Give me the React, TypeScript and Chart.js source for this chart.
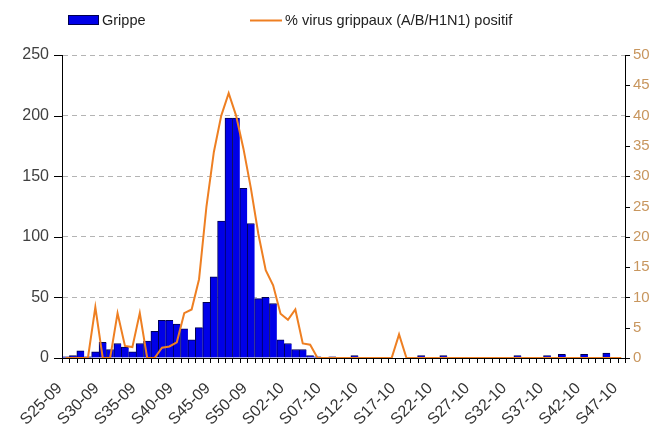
import React, { useEffect, useRef } from 'react';
import { Chart, registerables } from 'chart.js';

Chart.register(...registerables);

const weeks = [
  'S25-09', 'S26-09', 'S27-09', 'S28-09', 'S29-09', 'S30-09', 'S31-09', 'S32-09', 'S33-09', 'S34-09',
  'S35-09', 'S36-09', 'S37-09', 'S38-09', 'S39-09', 'S40-09', 'S41-09', 'S42-09', 'S43-09', 'S44-09',
  'S45-09', 'S46-09', 'S47-09', 'S48-09', 'S49-09', 'S50-09', 'S51-09', 'S52-09', 'S53-09', 'S01-10',
  'S02-10', 'S03-10', 'S04-10', 'S05-10', 'S06-10', 'S07-10', 'S08-10', 'S09-10', 'S10-10', 'S11-10',
  'S12-10', 'S13-10', 'S14-10', 'S15-10', 'S16-10', 'S17-10', 'S18-10', 'S19-10', 'S20-10', 'S21-10',
  'S22-10', 'S23-10', 'S24-10', 'S25-10', 'S26-10', 'S27-10', 'S28-10', 'S29-10', 'S30-10', 'S31-10',
  'S32-10', 'S33-10', 'S34-10', 'S35-10', 'S36-10', 'S37-10', 'S38-10', 'S39-10', 'S40-10', 'S41-10',
  'S42-10', 'S43-10', 'S44-10', 'S45-10', 'S46-10', 'S47-10',
];

const grippeCases = [
  1, 2, 6, 1, 5, 13, 7, 12, 9, 5,
  12, 14, 22, 31, 31, 28, 24, 15, 25, 46,
  67, 113, 198, 198, 140, 111, 49, 50, 45, 15,
  12, 7, 7, 2, 1, 0, 1, 0, 0, 2,
  0, 0, 0, 0, 0, 0, 0, 0, 2, 0,
  0, 2, 0, 0, 0, 0, 0, 0, 0, 0,
  0, 2, 0, 0, 0, 2, 0, 3, 0, 0,
  3, 0, 0, 4, 0, 0,
];

const virusPositivePct = [
  0, 0, 0, 0, 8.4, 0, 0, 7.4, 2, 1.8,
  7.4, 0, 0, 1.7, 1.9, 2.6, 7.4, 8, 13, 25,
  34, 40, 43.7, 40, 34.5, 28, 20.5, 14.5, 12, 7.3,
  6.3, 8, 2.4, 2.2, 0, 0, 0, 0, 0, 0,
  0, 0, 0, 0, 0, 3.9, 0, 0, 0, 0,
  0, 0, 0, 0, 0, 0, 0, 0, 0, 0,
  0, 0, 0, 0, 0, 0, 0, 0, 0, 0,
  0, 0, 0, 0, 0, 0,
];

const seriesNames = ['Grippe', '% virus grippaux (A/B/H1N1) positif'];
const leftAxisMax = 250;
const leftAxisStep = 50;
const rightAxisMax = 50;
const rightAxisStep = 5;
const labelEvery = 5;

const BLUE = '#0000E8';
const BAR_BORDER = '#000050';
const ORANGE = '#EE7F22';
const FONT = '"Liberation Sans", Arial, sans-serif';

export default function App() {
  const ref = useRef<HTMLCanvasElement>(null);

  useEffect(() => {
    if (!ref.current) return;

    const legendPlugin = {
      id: 'customLegend',
      afterDraw(chart: any) {
        const ctx = chart.ctx;
        ctx.save();
        ctx.fillStyle = BLUE;
        ctx.fillRect(68, 15, 31, 10);
        ctx.strokeStyle = BAR_BORDER;
        ctx.lineWidth = 1;
        ctx.strokeRect(68.5, 15.5, 30, 9);
        ctx.font = '14.5px ' + FONT;
        ctx.fillStyle = '#222';
        ctx.textBaseline = 'middle';
        ctx.textAlign = 'left';
        ctx.fillText(seriesNames[0], 102, 20.5);
        ctx.strokeStyle = ORANGE;
        ctx.lineWidth = 2;
        ctx.beginPath();
        ctx.moveTo(250, 20.5);
        ctx.lineTo(282, 20.5);
        ctx.stroke();
        ctx.fillText(seriesNames[1], 285, 20.5);
        ctx.restore();
      },
    };

    const tickMarksPlugin = {
      id: 'tickMarks',
      afterDraw(chart: any) {
        const ctx = chart.ctx;
        const { left, right, bottom } = chart.chartArea;
        const n = weeks.length;
        ctx.save();
        ctx.strokeStyle = '#000';
        ctx.lineWidth = 1;
        ctx.beginPath();
        for (let i = 0; i <= n; i++) {
          const x = Math.round(left + (i * (right - left)) / n) + 0.5;
          ctx.moveTo(x, bottom);
          ctx.lineTo(x, bottom + 5);
        }
        const ys = chart.scales.y;
        for (let v = 0; v <= leftAxisMax; v += leftAxisStep) {
          const y = Math.round(ys.getPixelForValue(v)) + 0.5;
          ctx.moveTo(left - 8, y);
          ctx.lineTo(left, y);
        }
        const ys1 = chart.scales.y1;
        for (let v = 0; v <= rightAxisMax; v += rightAxisStep) {
          const y = Math.round(ys1.getPixelForValue(v)) + 0.5;
          ctx.moveTo(right, y);
          ctx.lineTo(right + 5, y);
        }
        ctx.stroke();
        ctx.restore();
      },
    };

    const chart = new Chart(ref.current, {
      type: 'bar',
      data: {
        labels: weeks,
        datasets: [
          {
            type: 'line',
            label: seriesNames[1],
            data: virusPositivePct,
            yAxisID: 'y1',
            borderColor: ORANGE,
            backgroundColor: ORANGE,
            borderWidth: 2,
            pointRadius: 0,
            tension: 0,
            order: 1,
          } as any,
          {
            type: 'bar',
            label: seriesNames[0],
            data: grippeCases,
            yAxisID: 'y',
            backgroundColor: BLUE,
            borderColor: BAR_BORDER,
            borderWidth: { top: 1, left: 1, right: 0, bottom: 0 },
            borderSkipped: false,
            barPercentage: 1,
            categoryPercentage: 1,
            order: 2,
          } as any,
        ],
      },
      options: {
        responsive: false,
        animation: false,
        devicePixelRatio: 1,
        layout: { padding: { top: 55, left: 0, right: 0, bottom: 0 } },
        plugins: {
          legend: { display: false },
          tooltip: { enabled: false },
        },
        scales: {
          x: {
            type: 'category',
            offset: true,
            grid: { display: false, drawTicks: false },
            border: { display: true, color: '#000', width: 1 },
            ticks: {
              autoSkip: false,
              maxRotation: 45,
              minRotation: 45,
              padding: 21,
              labelOffset: -6,
              color: '#333',
              font: { family: FONT, size: 16 },
              callback: (_v: any, i: number) => (i % labelEvery === 0 ? weeks[i] : ''),
            },
            afterFit: (s: any) => {
              s.height = 72;
              s.paddingLeft = 0;
              s.paddingRight = 0;
            },
          },
          y: {
            type: 'linear',
            position: 'left',
            min: 0,
            max: leftAxisMax,
            ticks: {
              stepSize: leftAxisStep,
              padding: 13,
              color: '#404040',
              font: { family: FONT, size: 16 },
            },
            grid: {
              display: true,
              drawOnChartArea: true,
              drawTicks: false,
              color: (c: any) => (c.tick && c.tick.value === 0 ? 'rgba(0,0,0,0)' : '#B4B4B4'),
              lineWidth: 1,
            },
            border: { display: true, color: '#000', width: 1, dash: [5, 4] },
            afterFit: (s: any) => {
              s.width = 62;
            },
          },
          y1: {
            type: 'linear',
            position: 'right',
            min: 0,
            max: rightAxisMax,
            ticks: {
              stepSize: rightAxisStep,
              padding: 8,
              color: '#C8965E',
              font: { family: FONT, size: 15 },
            },
            grid: { display: false, drawOnChartArea: false, drawTicks: false },
            border: { display: true, color: '#000', width: 1 },
            afterFit: (s: any) => {
              s.width = 37;
            },
          },
        },
      },
      plugins: [legendPlugin, tickMarksPlugin],
    });

    return () => chart.destroy();
  }, []);

  return (
    <canvas
      ref={ref}
      width={662}
      height={430}
      style={{ position: 'absolute', left: 0, top: 0, background: '#fff' }}
    />
  );
}
